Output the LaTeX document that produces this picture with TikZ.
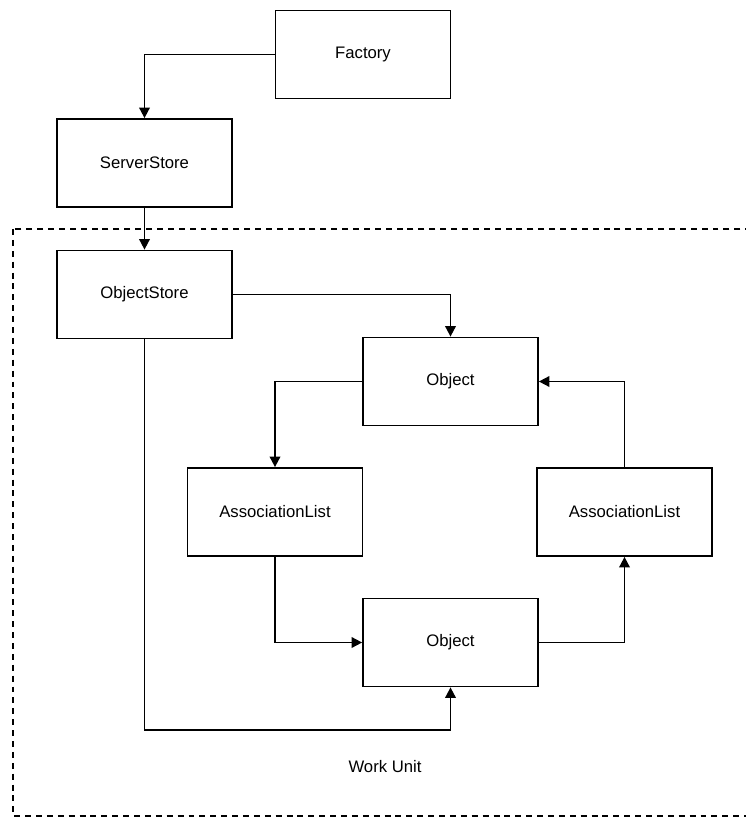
\documentclass[tikz,border=0pt]{standalone}
\usepackage{fontspec}
\setmainfont{Liberation Sans}
\usepackage{tikz}
\usetikzlibrary{arrows.meta}

\begin{document}
\begin{tikzpicture}[x=0.02cm, y=-0.02cm,
    box/.style={draw, line width=1pt, minimum width=3.5cm, minimum height=1.76cm, font=\fontsize{9.5}{11}\selectfont},
    arr/.style={line width=1pt, -{Triangle[length=6pt, width=6pt]}}]
    \useasboundingbox (0,0) rectangle (746,817);
    % work unit frame
    \draw[dashed, line width=0.8pt, dash pattern=on 3.4pt off 2.8pt] (13,229) rectangle (770,816);
    \node[box] (factory) at (363,54.5) {Factory};
    \node[box] (serverstore) at (144.5,163) {ServerStore};
    \node[box] (objectstore) at (144.5,294.5) {ObjectStore};
    \node[box] (objecttop) at (450.5,381.5) {Object};
    \node[box] (assocleft) at (275,512) {AssociationList};
    \node[box] (assocright) at (624.5,512) {AssociationList};
    \node[box] (objectbottom) at (450.5,642.5) {Object};
    \node[font=\fontsize{9.5}{11}\selectfont] (workunit) at (385,767) {Work Unit};
    \coordinate (loop) at (144.5,730);
    % connectors
    \draw[arr] (factory.west) -| (serverstore.north);
    \draw[arr] (serverstore) -- (objectstore);
    \draw[arr] (objectstore.east) -| (objecttop.north);
    \draw[arr] (objecttop.west) -| (assocleft.north);
    \draw[arr] (assocleft.south) |- (objectbottom.west);
    \draw[arr] (objectbottom.east) -| (assocright.south);
    \draw[arr] (assocright.north) |- (objecttop.east);
    \draw[arr] (objectstore.south) -- (loop) -| (objectbottom.south);
\end{tikzpicture}
\end{document}
